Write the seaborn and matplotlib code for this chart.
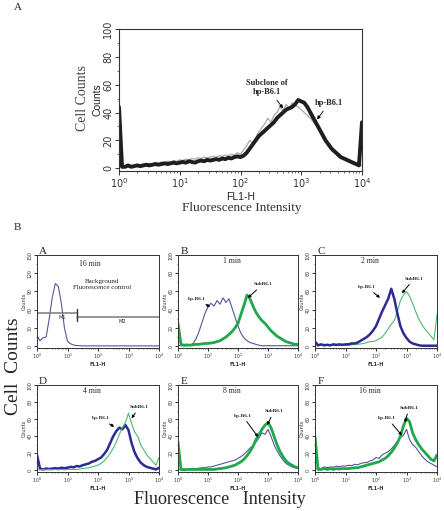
import numpy as np
import matplotlib
matplotlib.use("Agg")
import matplotlib.pyplot as plt
import matplotlib.ticker as mticker
import seaborn as sns

# ---------------- data ----------------
# top panel: channel positions in decades (step 0.05)
top_decades = [round(0.05 * i, 2) for i in range(81)]
top_hp = [44, 1, 1, 2, 1, 1.5, 2, 1.5, 2, 2.5, 2, 2.5, 3, 2.5, 3, 3.5, 3, 3.5, 4, 3.5,
          4, 4.5, 4, 5, 4.5, 4, 5, 5.5, 5, 6, 5.5, 6, 6.5, 6, 7, 6.5, 7.5, 7, 8, 8.5,
          8, 9, 11, 14, 17, 20, 23, 25, 27, 29, 31, 33, 36, 38, 40, 42, 43, 44, 46, 49,
          48, 47, 44, 40, 36, 32, 28, 24, 20, 17, 14, 12, 10, 8, 7, 6, 5, 4, 3, 2, 33]
top_sub = [2, 1, 1.5, 1, 2, 1.5, 2.5, 2, 3, 2.5, 3.5, 3, 4, 3.5, 4.5, 4, 5, 4.5, 5.5, 5,
           6, 5.5, 6.5, 6, 7, 6.5, 7.5, 7, 8, 7.5, 8, 8.5, 8, 9, 8.5, 9.5, 9, 10, 9.5, 11,
           10, 13, 16, 20, 18, 22, 26, 29, 32, 36, 33, 38, 40, 44, 41, 46, 43, 47, 45, 44,
           42, 40, 38, 36, 33, 31, 27, 23, 19, 16, 13, 11, 9, 8, 7, 6, 5, 4, 3, 2, 2]

# lower panels: channel positions in decades (step 0.1)
decades = [round(0.1 * i, 1) for i in range(41)]
bg_16min = [17, 9, 14, 15, 45, 80, 103, 98, 70, 30, 8, 4, 2, 1, 1, 0.5, 0.5, 0.5, 0.5, 0.5,
            0.5, 0.5, 0.5, 0.5, 0.5, 0.5, 0.5, 0.5, 0.5, 0.5, 0.5, 0.5, 0.5, 0.5, 0.5, 0.5,
            0.5, 0.5, 0.5, 0.5, 0.5]
hp_1min = [1, 0.5, 0.5, 0.5, 1, 3, 8, 16, 26, 36, 43, 47, 44, 50, 46, 53, 48, 52, 42, 32,
           22, 14, 9, 6, 4, 3, 2, 1, 0.5, 0.5, 0.5, 0.5, 0.5, 0.5, 0.5, 0.5, 0.5, 0.5, 0.5, 0.5, 0.5]
sub_1min = [25, 2, 1, 1.5, 1, 1.5, 2, 2, 2.5, 3, 3, 3.5, 4, 5, 6, 8, 10, 13, 16, 20,
            25, 35, 45, 56, 52, 44, 37, 32, 28, 25, 21, 17, 14, 11, 9, 7, 5, 4, 3, 2, 2]
hp_2min = [5, 1, 2, 1, 1.5, 1, 2, 1.5, 2, 1.5, 2, 2, 3, 3, 4, 6, 8, 10, 13, 17,
           22, 30, 38, 45, 52, 63, 52, 36, 22, 14, 9, 5, 3, 2, 1, 0.5, 0.5, 0.5, 0.5, 0.5, 0.5]
sub_2min = [0.5, 0.5, 1, 0.5, 1, 0.5, 1, 0.5, 1, 1, 1, 1, 1.5, 2, 2, 2.5, 3, 4, 5, 5,
            6, 8, 10, 14, 19, 24, 28, 38, 50, 56, 60, 55, 47, 38, 30, 24, 19, 15, 11, 7, 35]
hp_4min = [18, 2, 1, 2, 1.5, 2, 2.5, 2, 3, 2.5, 3, 4, 3.5, 5, 4.5, 6, 7, 8, 10, 11,
           13, 15, 19, 24, 32, 40, 46, 50, 48, 53, 47, 32, 21, 14, 9, 6, 4, 3, 2, 1, 3]
sub_4min = [0.5, 0.5, 1, 0.5, 1, 0.5, 1, 0.5, 1, 0.5, 1, 1, 1, 1, 1.5, 2, 2.5, 3, 4, 5,
            6, 8, 11, 15, 20, 26, 33, 42, 50, 56, 67, 55, 45, 40, 30, 24, 18, 14, 10, 6, 15]
hp_8min = [1, 1, 1.5, 1, 2, 1.5, 2, 2.5, 3, 3, 4, 4, 5, 6, 7, 8, 9, 10, 11, 12,
           14, 16, 19, 22, 26, 29, 33, 38, 44, 42, 48, 40, 30, 23, 17, 12, 8, 6, 4, 3, 2]
sub_8min = [33, 1, 0.5, 1, 1, 1, 1, 1, 1, 1, 1, 1, 1, 1.5, 2, 2.5, 3, 4, 5, 6,
            8, 10, 13, 17, 22, 28, 36, 42, 48, 53, 56, 50, 40, 30, 22, 16, 11, 8, 6, 4, 3]
hp_16min = [2, 3, 2, 4, 3, 4, 3.5, 5, 4, 5, 5, 6, 5.5, 7, 6.5, 8, 9, 9, 11, 12,
            15, 14, 18, 20, 22, 25, 29, 34, 38, 41, 48, 36, 30, 27, 22, 17, 13, 10, 8, 6, 4]
sub_16min = [40, 1, 1, 2, 1, 2, 1, 2, 1.5, 2, 2, 2, 2.5, 3, 3, 4, 5, 6, 7, 8,
             9, 10, 12, 14, 17, 21, 26, 32, 40, 52, 61, 57, 44, 36, 30, 25, 21, 17, 13, 11, 18]

# marker gates for the background panel (decade start, decade end, height)
gate_m1 = [0.0, 1.31, 55]
gate_m2 = [1.31, 4.0, 48]

# ---------------- style ----------------
sns.set_style("ticks")
plt.rcParams["font.family"] = ["DejaVu Sans"]
SERIF = ["Liberation Serif", "DejaVu Serif"]
SANS = ["Liberation Sans", "DejaVu Sans"]

W, H = 444, 511
fig = plt.figure(figsize=(W / 100, H / 100), dpi=100)
fig.patch.set_facecolor("white")


def ax_at(x0, x1, ytop, ybot):
    return fig.add_axes([x0 / W, 1 - ybot / H, (x1 - x0) / W, (ybot - ytop) / H])


def ftext(x, y, s, **kw):
    fig.text(x / W, 1 - y / H, s, **kw)


def draw(ax, dec, vals, color, lw):
    xs = np.power(10.0, np.asarray(dec, dtype=float))
    sns.lineplot(x=xs, y=vals, ax=ax, color=color, lw=lw,
                 estimator=None, sort=False, legend=False)


def setup_log_axis(ax, tick_fs, small=False):
    ax.set_xscale("log")
    ax.set_xlim(1, 1e4)
    ax.xaxis.set_major_locator(mticker.LogLocator(base=10, numticks=10))
    ax.xaxis.set_minor_locator(mticker.LogLocator(base=10, subs=np.arange(2, 10), numticks=10))
    ax.xaxis.set_minor_formatter(mticker.NullFormatter())
    for s in ax.spines.values():
        s.set_color("#333333")
        s.set_linewidth(0.8 if not small else 0.7)
    ax.tick_params(axis="both", which="major", direction="out", length=3 if not small else 2,
                   width=0.7, labelsize=tick_fs, colors="#333333", pad=1)
    ax.tick_params(axis="both", which="minor", direction="out", length=1.6 if not small else 1,
                   width=0.5, colors="#333333")
    ax.tick_params(axis="y", which="major", labelrotation=90)
    for lab in ax.get_yticklabels():
        lab.set_va("center")


# ---------------- top panel ----------------
ax = ax_at(119, 362, 29, 171)
draw(ax, top_decades, top_sub, "#b0b0b0", 1.0)
draw(ax, top_decades, top_hp, "#1e1e1e", 2.8)
ax.set_ylim(-2, 100)
ax.set_yticks([0, 20, 40, 60, 80, 100])
ax.yaxis.set_minor_locator(mticker.MultipleLocator(10))
setup_log_axis(ax, 7)
ax.set_xlabel("FL1-H", fontsize=7.5, family=SANS, labelpad=1, color="#222222")
ax.set_ylabel("Counts", fontsize=7.5, family=SANS, labelpad=1, color="#222222")
ax.annotate("Subclone of\nhp-B6.1", xy=(10 ** 2.70, 43), xytext=(10 ** 2.44, 58),
            ha="center", va="center", fontsize=6, fontweight="bold", family=SERIF,
            linespacing=1.1,
            arrowprops=dict(arrowstyle="-|>", color="black", lw=0.6, mutation_scale=5,
                            shrinkA=1, shrinkB=0))
ax.annotate("hp-B6.1", xy=(10 ** 3.26, 35), xytext=(10 ** 3.46, 47),
            ha="center", va="center", fontsize=6, fontweight="bold", family=SERIF,
            arrowprops=dict(arrowstyle="-|>", color="black", lw=0.6, mutation_scale=5,
                            shrinkA=1, shrinkB=0))
ftext(82, 98, "Cell Counts", rotation=90, ha="center", va="center", fontsize=10,
      family=SERIF, color="#444444")
ftext(242, 208, "Fluorescence Intensity", ha="center", va="center", fontsize=9.5,
      family=SERIF, color="#333333")
ftext(18, 8, "A", ha="center", va="center", fontsize=8, family=SERIF)
ftext(17, 228, "B", ha="center", va="center", fontsize=8, family=SERIF)

# ---------------- lower panels ----------------
BLUE_THIN = "#55559e"
BLUE_THICK = "#2c2a94"
GREEN_THICK = "#1fa84a"
GREEN_THIN = "#4cbb6c"

cols = [(37, 159), (178, 298), (315, 437)]
rows = [(255, 348), (385, 472)]

panels = [
    # letter, row, col, time, [(values, color, lw)], annotations
    ("A", 0, 0, "16 min", [(bg_16min, BLUE_THIN, 0.8)], None),
    ("B", 0, 1, "1 min", [(hp_1min, BLUE_THIN, 0.8), (sub_1min, GREEN_THICK, 2.0)],
     [(1.07, 43, 0.62, 52), (2.33, 53, 2.83, 68)]),
    ("C", 0, 2, "2 min", [(sub_2min, GREEN_THIN, 0.8), (hp_2min, BLUE_THICK, 1.8)],
     [(2.13, 53, 1.70, 65), (2.85, 58, 3.25, 74)]),
    ("D", 1, 0, "4 min", [(hp_4min, BLUE_THICK, 1.8), (sub_4min, GREEN_THIN, 0.8)],
     [(2.53, 51, 2.08, 61), (3.10, 61, 3.36, 74)]),
    ("E", 1, 1, "8 min", [(hp_8min, BLUE_THIN, 0.8), (sub_8min, GREEN_THICK, 2.0)],
     [(2.67, 39, 2.15, 64), (2.97, 53, 3.20, 69)]),
    ("F", 1, 2, "16 min", [(hp_16min, BLUE_THIN, 0.8), (sub_16min, GREEN_THICK, 2.0)],
     [(2.85, 41, 2.37, 61), (2.95, 56, 3.08, 73)]),
]

for letter, r, c, tlabel, curves, annots in panels:
    x0, x1 = cols[c]
    yt, yb = rows[r]
    a = ax_at(x0, x1, yt, yb)
    for vals, colr, lw in curves:
        draw(a, decades, vals, colr, lw)
    if letter == "A":
        a.set_ylim(-3, 150)
        a.set_yticks([0, 30, 60, 90, 120, 150])
        ymax = 150
    else:
        a.set_ylim(-2, 100)
        a.set_yticks([0, 20, 40, 60, 80, 100])
        ymax = 100
    a.yaxis.set_minor_locator(mticker.AutoMinorLocator(2))
    setup_log_axis(a, 3.4, small=True)
    a.set_xlabel("FL1-H", fontsize=3.6, labelpad=0.3, fontweight="bold", color="#333333")
    a.set_ylabel("Counts", fontsize=3.6, labelpad=0.5, color="#333333")
    a.text(10 ** (1.8 if letter != "A" else 1.74), 0.93 * ymax if letter != "A" else 135,
           tlabel, ha="center", va="center", fontsize=5.5, family=SERIF)
    ftext(x0 + 6, yt - 3, letter, ha="center", va="center", fontsize=8, family=SERIF)
    if annots:
        (tx1, ty1, sx1, sy1), (tx2, ty2, sx2, sy2) = annots
        for (tx, ty, sx, sy, lab) in [(tx1, ty1, sx1, sy1, "hp-B6.1"), (tx2, ty2, sx2, sy2, "SubB6.1")]:
            a.annotate(lab, xy=(10 ** tx, ty), xytext=(10 ** sx, sy), ha="center", va="center",
                       fontsize=3.8, fontweight="bold", family=SERIF,
                       arrowprops=dict(arrowstyle="-|>", color="black", lw=0.7,
                                       mutation_scale=4, shrinkA=0.5, shrinkB=0))
    if letter == "A":
        g1x = [10 ** gate_m1[0], 10 ** gate_m1[1]]
        g2x = [10 ** gate_m2[0], 10 ** gate_m2[1]]
        a.plot(g1x, [gate_m1[2], gate_m1[2]], color="#7a7a7a", lw=1.1)
        a.plot(g2x, [gate_m2[2], gate_m2[2]], color="#7a7a7a", lw=1.1)
        a.plot([10 ** gate_m1[1]] * 2, [gate_m1[2] + 6, gate_m2[2] - 6], color="#333333", lw=1.0)
        a.plot([10 ** gate_m1[0] * 1.03] * 2, [gate_m1[2] + 4, gate_m1[2] - 4], color="#333333", lw=0.8)
        a.text(10 ** 0.82, 47, "M1", fontsize=3.6, ha="center", va="center")
        a.text(10 ** 2.79, 40, "M2", fontsize=3.6, ha="center", va="center")
        a.text(10 ** 2.13, 101, "Background\nFluorescence control", ha="center", va="center",
               fontsize=5, family=SERIF, linespacing=1.3)

ftext(13, 366, "Cell  Counts", rotation=90, ha="center", va="center", fontsize=14, family=SERIF)
ftext(220, 500, "Fluorescence   Intensity", ha="center", va="center", fontsize=13, family=SERIF)

fig.savefig("out.png", dpi=100, facecolor="white")
